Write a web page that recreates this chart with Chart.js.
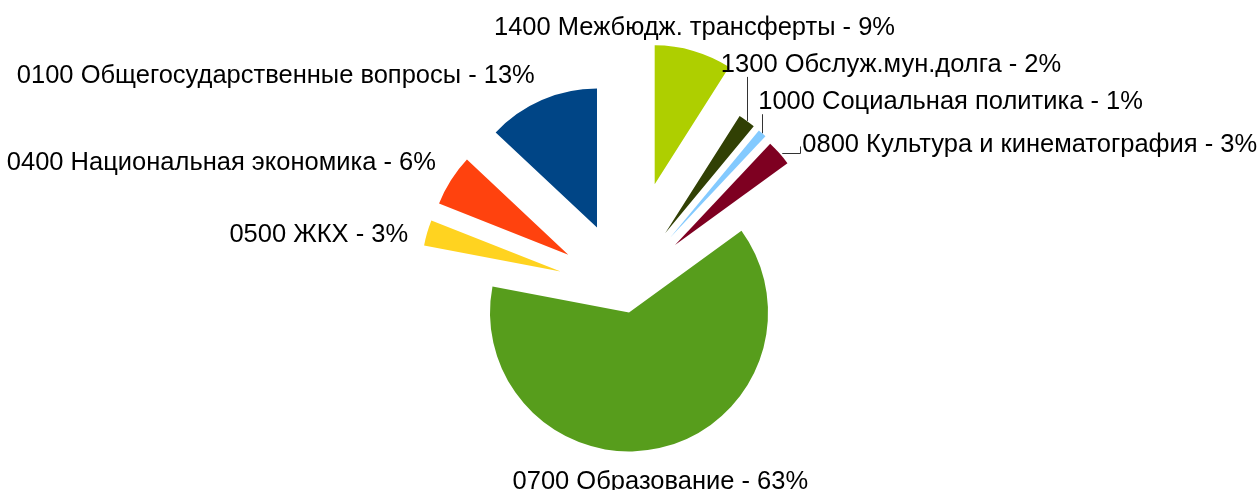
<!DOCTYPE html>
<html>
<head>
<meta charset="utf-8">
<script src="https://cdn.jsdelivr.net/npm/chart.js@4/dist/chart.umd.min.js"></script>
<style>
    body { margin: 0; background: #fff; }
    #wrap { width: 1259px; height: 490px; position: relative; }
</style>
</head>
<body>
<div id="wrap"><canvas id="budget-chart"></canvas></div>
<script>
// Structure of expenses, clockwise from 12 o'clock
const sectionCodes = ["1400", "1300", "1000", "0800", "0700", "0500", "0400", "0100"];
const sectionNames = [
    "Межбюдж. трансферты",
    "Обслуж.мун.долга",
    "Социальная политика",
    "Культура и кинематография",
    "Образование",
    "ЖКХ",
    "Национальная экономика",
    "Общегосударственные вопросы"
];
const sharePercent = [9, 2, 1, 3, 63, 3, 6, 13];

const sliceColors = ["#aecf00", "#314004", "#83caff", "#7e0021", "#579d1c", "#ffd320", "#ff420e", "#004586"];
// how far each slice is pulled out of the pie, px
// (Chart.js own 'offset' also grows the radius, so slices are moved by a plugin instead)
const sliceOffsets = [110, 70, 70, 68, 23, 66, 66, 68];

// label placement relative to the outer middle point of each slice
const labelLayout = [
    { align: "center", dx: 1, dy: -16, leader: null },
    { align: "left", dx: -26, dy: -49, leader: "up" },
    { align: "left", dx: -4, dy: -24, leader: "up" },
    { align: "left", dx: 23, dy: -1, leader: "side" },
    { align: "center", dx: 1, dy: 41, leader: null },
    { align: "right", dx: -19, dy: 9, leader: null },
    { align: "right", dx: -15, dy: -10, leader: null },
    { align: "right", dx: -7, dy: -17, leader: null }
];

const labelText = sectionCodes.map((c, i) => `${c} ${sectionNames[i]} - ${sharePercent[i]}%`);

function midAngle(arc) {
    return (arc.startAngle + arc.endAngle) / 2;
}

const explodeSlices = {
    id: "explodeSlices",
    beforeDatasetDraw(chart, args) {
        const ctx = chart.ctx;
        args.meta.data.forEach((arc, i) => {
            const mid = midAngle(arc);
            ctx.save();
            ctx.translate(Math.cos(mid) * sliceOffsets[i], Math.sin(mid) * sliceOffsets[i]);
            arc.draw(ctx);
            ctx.restore();
        });
        return false;
    }
};

const sliceLabels = {
    id: "sliceLabels",
    afterDatasetsDraw(chart) {
        const ctx = chart.ctx;
        const arcs = chart.getDatasetMeta(0).data;
        ctx.save();
        ctx.font = "25.5px 'Liberation Sans', Arial, sans-serif";
        ctx.fillStyle = "#000";
        ctx.strokeStyle = "#333";
        ctx.lineWidth = 1;
        ctx.textBaseline = "alphabetic";
        arcs.forEach((arc, i) => {
            const mid = midAngle(arc);
            const r = arc.outerRadius + sliceOffsets[i];
            const ax = arc.x + Math.cos(mid) * r;
            const ay = arc.y + Math.sin(mid) * r;
            const lay = labelLayout[i];
            const tx = ax + lay.dx;
            const ty = ay + lay.dy;
            ctx.textAlign = lay.align;
            ctx.fillText(labelText[i], tx, ty);

            if (lay.leader === "up") {
                const lx = Math.round(ax) + 0.5;
                ctx.beginPath();
                ctx.moveTo(lx, ay);
                ctx.lineTo(lx, ty + 5);
                ctx.stroke();
            } else if (lay.leader === "side") {
                const ly = Math.round(ay) + 0.5;
                const ex = Math.round(tx - 2) + 0.5;
                ctx.beginPath();
                ctx.moveTo(ax + 3, ly);
                ctx.lineTo(ex, ly);
                ctx.lineTo(ex, ly - 7);
                ctx.stroke();
            }
        });
        ctx.restore();
    }
};

const chartContainer = document.getElementById("budget-chart").getContext("2d");

new Chart(chartContainer, {
    type: "pie",
    data: {
        labels: labelText,
        datasets: [{
            data: sharePercent,
            backgroundColor: sliceColors,
            borderWidth: 0,
            radius: 139,
            clip: false
        }]
    },
    options: {
        responsive: true,
        maintainAspectRatio: false,
        animation: false,
        events: [],
        layout: {
            padding: { left: 0, right: 11, top: 90, bottom: 0 }
        },
        plugins: {
            legend: { display: false },
            tooltip: { enabled: false }
        }
    },
    plugins: [explodeSlices, sliceLabels]
});
</script>
</body>
</html>
